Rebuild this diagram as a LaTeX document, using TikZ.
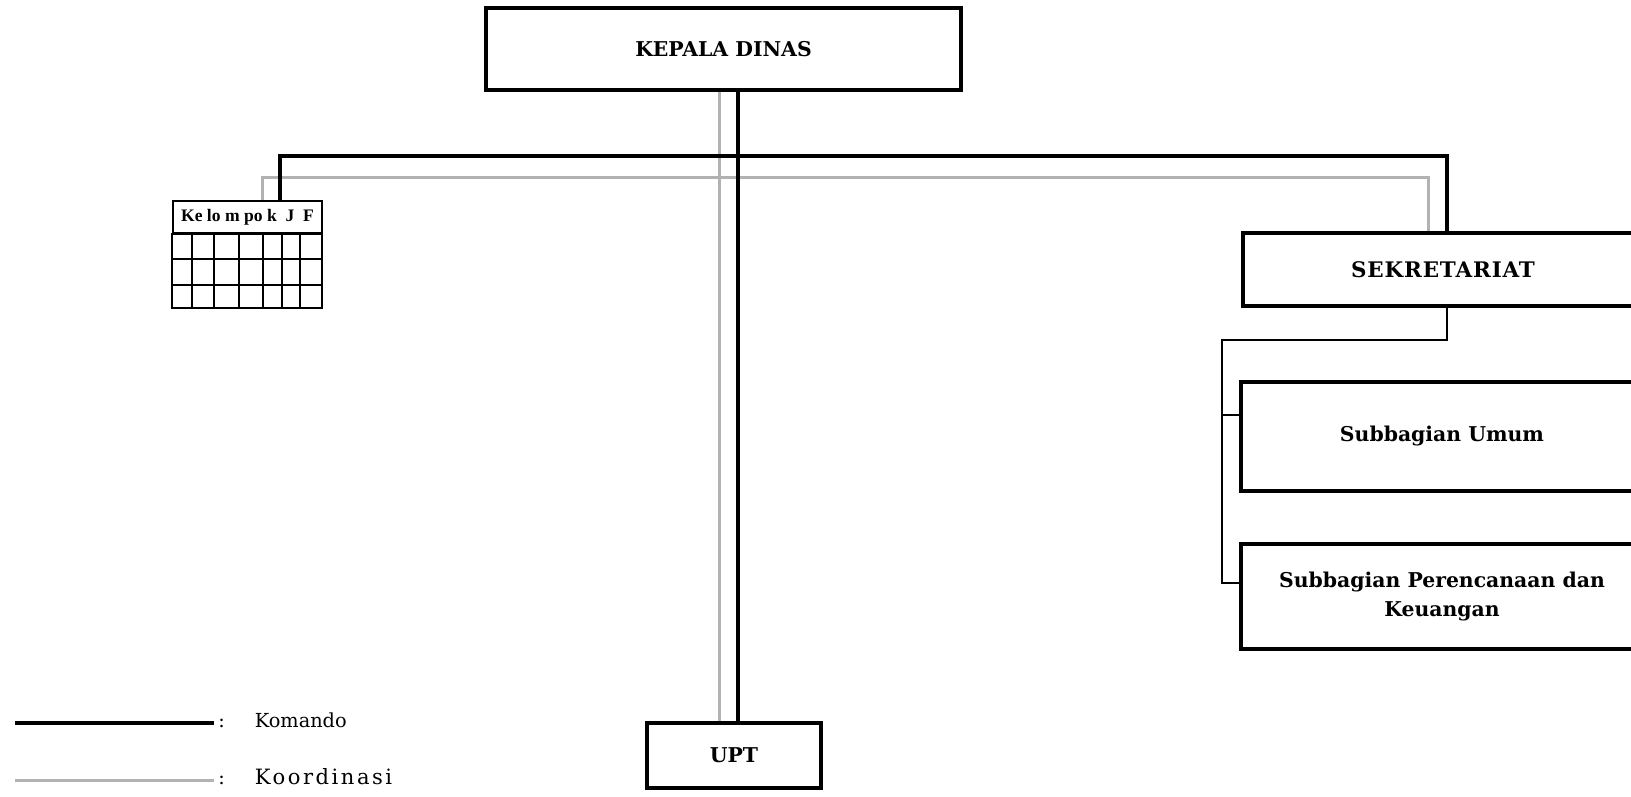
\documentclass[tikz,border=0pt]{standalone}
\usepackage{fontspec}
\setmainfont{DejaVu Serif}
\newfontfamily\jffont{Liberation Serif}
\usetikzlibrary{positioning}

\tikzset{
  kotak/.style={draw, line width=0.08cm, inner sep=0pt, align=center,
    font=\bfseries\fontsize{11.6}{17}\selectfont},
  komando/.style={draw, line width=0.08cm},
  koordinasi/.style={draw, gray!60, line width=0.06cm},
  garis/.style={draw, line width=0.04cm},
  sel/.style={draw, line width=0.04cm}
}

\begin{document}
\begin{tikzpicture}[x=0.02cm,y=-0.02cm]
\useasboundingbox (0,0) rectangle (1631,796);

% kotak-kotak unit
\node[kotak, minimum width=9.5cm, minimum height=1.64cm] (kadis) at (723.5,49) {KEPALA DINAS};
\node[kotak, minimum width=8cm, minimum height=1.46cm] (sekre) at (1443,269.5) {\fontsize{12.2}{17}\selectfont\addfontfeatures{LetterSpace=4}SEKRETARIAT};
\node[kotak, minimum width=8.04cm, minimum height=2.18cm] (subum) at (1442,436.5) {Subbagian Umum};
\node[kotak, minimum width=8.04cm, minimum height=2.1cm] (subren) at (1442,596.5) {Subbagian Perencanaan dan\\Keuangan};
\node[kotak, minimum width=3.48cm, minimum height=1.3cm] (upt) at (734,755.5) {UPT};

% kelompok jabatan fungsional
\node[sel, minimum width=2.98cm, minimum height=0.64cm, inner sep=0pt,
  font=\jffont\bfseries\fontsize{10}{12}\selectfont] (jf) at (247.5,217) {Ke lo m po k \ J \ F};
\draw[sel] (jf.south west) rectangle (322,308);
\foreach \y in {259,285}
  \draw[sel] (173,\y) -- (322,\y);
\foreach \x in {192,214,239,263,282,300}
  \draw[sel] (\x,233) -- (\x,308);

% garis komando
\coordinate (busK) at (738,156);
\coordinate (busG) at (719,177);
\draw[koordinasi] (kadis.south -| busG) -- (upt.north -| busG);
\draw[koordinasi] (jf.north -| 262,0) |- (busG) -| (sekre.north -| 1428,0);
\draw[komando] (kadis.south -| busK) -- (upt.north -| busK);
\draw[komando] (jf.north -| 280,0) |- (busK) -| (sekre.north -| 1447,0);

% sekretariat ke subbagian
\draw[garis] (sekre.south -| 1447,0) |- (1222,340) |- (subren.west |- 0,583);
\draw[garis] (1222,415) -- (subum.west |- 0,415);

% keterangan
\coordinate (lk1) at (15,723);
\coordinate (lk2) at (214,723);
\coordinate (lg1) at (15,780);
\coordinate (lg2) at (214,780);
\draw[komando] (lk1) -- (lk2);
\draw[koordinasi] (lg1) -- (lg2);
\node[anchor=west, inner sep=0pt, font=\fontsize{11}{13}\selectfont] (kom) at (218,720) {:\hspace{0.6cm}Komando};
\node[anchor=west, inner sep=0pt, font=\fontsize{11}{13}\selectfont] (koor) at (218,777) {:\hspace{0.6cm}{\fontsize{12}{13}\selectfont\addfontfeatures{LetterSpace=12}Koordinasi}};

\end{tikzpicture}
\end{document}
